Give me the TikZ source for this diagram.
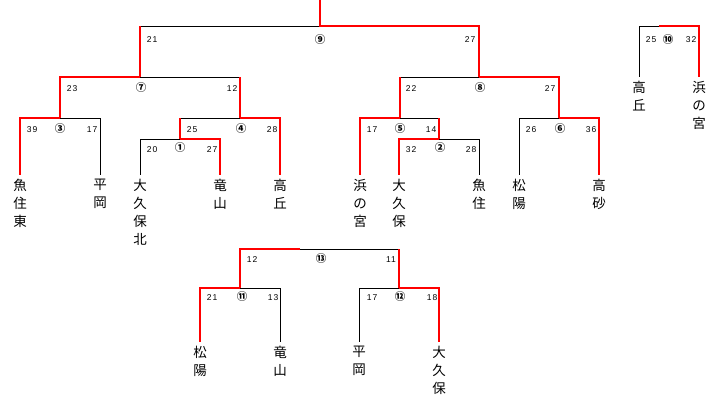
\documentclass[tikz,border=0pt]{standalone}
\usepackage{fontspec}
\newfontfamily\jp{Noto Sans CJK JP}
\newfontfamily\numf[LetterSpace=12]{Liberation Sans}
\begin{document}
\begin{tikzpicture}[x=1pt,y=-1pt,
  blk/.style={draw=black,line width=0.8pt},
  win/.style={draw=red,line width=2.2pt},
  sc/.style={font=\numf\fontsize{8.5}{9}\selectfont,inner sep=0pt},
  cn/.style={font=\jp\bfseries\fontsize{10.5}{10.5}\selectfont,inner sep=0pt},
  leaf/.style={font=\jp\fontsize{13.5}{18}\selectfont,align=center,anchor=north,inner xsep=0pt,inner ysep=4pt}]
\useasboundingbox (0,0) rectangle (721,420);
% leaves
\node[leaf] (a1) at (20,175) {魚\\住\\東};
\node[leaf] (a2) at (100,175) {平\\岡};
\node[leaf] (a3) at (140,175) {大\\久\\保\\北};
\node[leaf] (a4) at (220,175) {竜\\山};
\node[leaf] (a5) at (280,175) {高\\丘};
\node[leaf] (a6) at (360,175) {浜\\の\\宮};
\node[leaf] (a7) at (399,175) {大\\久\\保};
\node[leaf] (a8) at (479,175) {魚\\住};
\node[leaf] (a9) at (519,175) {松\\陽};
\node[leaf] (a10) at (599,175) {高\\砂};
\node[leaf] (b1) at (639,77) {高\\丘};
\node[leaf] (b2) at (699,77) {浜\\の\\宮};
\node[leaf] (c1) at (200,342) {松\\陽};
\node[leaf] (c2) at (280,342) {竜\\山};
\node[leaf] (c3) at (359,342) {平\\岡};
\node[leaf] (c4) at (439,342) {大\\久\\保};
% junctions
\coordinate (top) at (320,0);
\coordinate (m9) at (320,26);
\coordinate (m7) at (140,77);
\coordinate (m8) at (479,77);
\coordinate (m3) at (60,118);
\coordinate (m4) at (240,118);
\coordinate (m1) at (180,139);
\coordinate (m5) at (400,118);
\coordinate (m2) at (439,139);
\coordinate (m6) at (559,118);
\coordinate (m10) at (659,26);
\coordinate (m13) at (300,249);
\coordinate (m11) at (240,288);
\coordinate (m12) at (399,288);
% black (losing) lines
\draw[blk] (m9) -| (m7);
\draw[blk] (m7) -| (m4);
\draw[blk] (m3) -| (a2.north);
\draw[blk] (m4) -| (m1);
\draw[blk] (m1) -| (a3.north);
\draw[blk] (m8) -| (m5);
\draw[blk] (m5) -| (m2);
\draw[blk] (m2) -| (a8.north);
\draw[blk] (m6) -| (a9.north);
\draw[blk] (m10) -| (b1.north);
\draw[blk] (m13) -| (m12);
\draw[blk] (m11) -| (c2.north);
\draw[blk] (m12) -| (c3.north);
% red (winning) lines
\draw[win] (top) -- (m9) -| (m8);
\draw[win] (m7) -- (m7 |- m9);
\draw[win] (m7) -| (m3);
\draw[win] (m4) -- (m4 |- m7);
\draw[win] (m3) -| (a1.north);
\draw[win] (m4) -| (a5.north);
\draw[win] (m1) -- (m1 |- m4);
\draw[win] (m1) -| (a4.north);
\draw[win] (m8) -| (m6);
\draw[win] (m5) -- (m5 |- m8);
\draw[win] (m5) -| (a6.north);
\draw[win] (m2) -- (m2 |- m5);
\draw[win] (m2) -| (a7.north);
\draw[win] (m6) -| (a10.north);
\draw[win] (m10) -| (b2.north);
\draw[win] (m13) -| (m11);
\draw[win] (m12) -- (m12 |- m13);
\draw[win] (m11) -| (c1.north);
\draw[win] (m12) -| (c4.north);
% scores and match numbers
\node[sc] (s9l) at (152,40) {21}; \node[cn] (n9) at (320,40) {⑨}; \node[sc] (s9r) at (470,40) {27};
\node[sc] (s7l) at (72,89) {23}; \node[cn] (n7) at (141,88) {⑦}; \node[sc] (s7r) at (232,89) {12};
\node[sc] (s8l) at (411,89) {22}; \node[cn] (n8) at (480,88) {⑧}; \node[sc] (s8r) at (550,89) {27};
\node[sc] (s3l) at (32,130) {39}; \node[cn] (n3) at (60,129) {③}; \node[sc] (s3r) at (92,130) {17};
\node[sc] (s4l) at (192,130) {25}; \node[cn] (n4) at (241,129) {④}; \node[sc] (s4r) at (272,130) {28};
\node[sc] (s1l) at (152,150) {20}; \node[cn] (n1) at (180,148) {①}; \node[sc] (s1r) at (212,150) {27};
\node[sc] (s5l) at (372,130) {17}; \node[cn] (n5) at (400,129) {⑤}; \node[sc] (s5r) at (431,130) {14};
\node[sc] (s2l) at (411,150) {32}; \node[cn] (n2) at (440,148) {②}; \node[sc] (s2r) at (471,150) {28};
\node[sc] (s6l) at (531,130) {26}; \node[cn] (n6) at (560,129) {⑥}; \node[sc] (s6r) at (591,130) {36};
\node[sc] (s10l) at (651,40) {25}; \node[cn] (n10) at (668,40) {⑩}; \node[sc] (s10r) at (691,40) {32};
\node[sc] (s13l) at (252,260) {12}; \node[cn] (n13) at (321,259) {⑬}; \node[sc] (s13r) at (391,260) {11};
\node[sc] (s11l) at (212,298) {21}; \node[cn] (n11) at (242,297) {⑪}; \node[sc] (s11r) at (273,298) {13};
\node[sc] (s12l) at (372,298) {17}; \node[cn] (n12) at (400,297) {⑫}; \node[sc] (s12r) at (432,298) {18};
\end{tikzpicture}
\end{document}
